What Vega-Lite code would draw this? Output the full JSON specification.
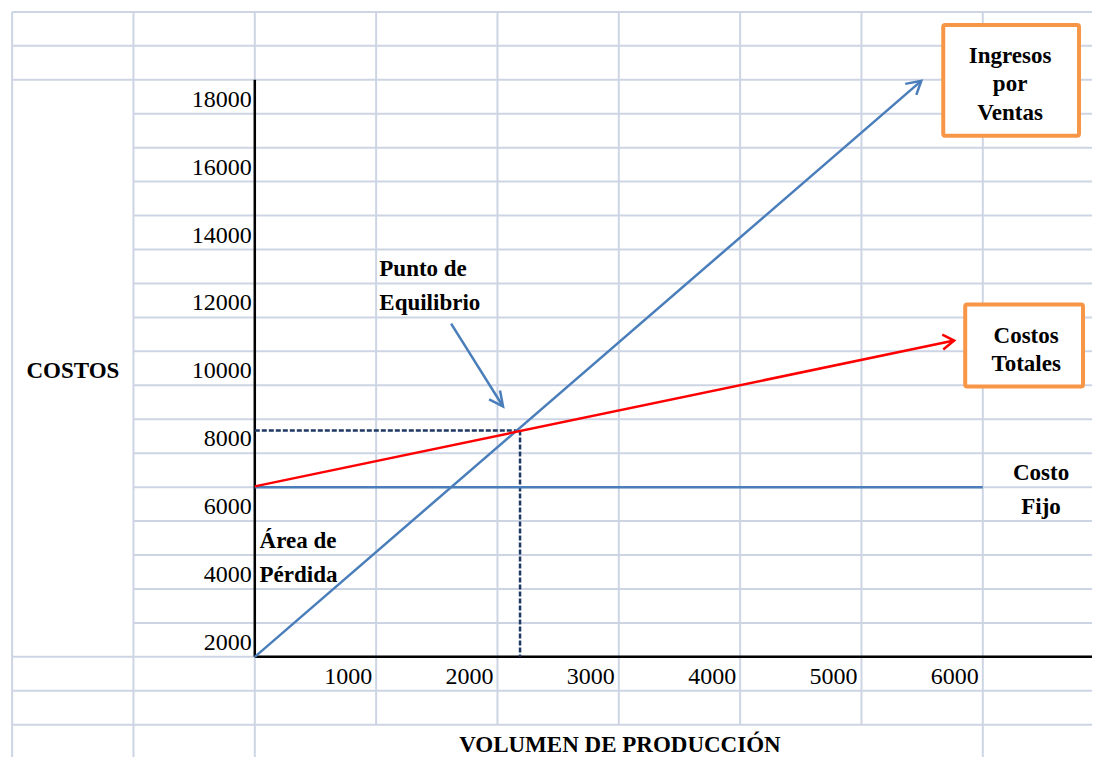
{
  "$schema": "https://vega.github.io/schema/vega-lite/v6.json",
  "width": 1094,
  "height": 758,
  "autosize": {"type": "fit", "contains": "padding"},
  "padding": 0,
  "background": "white",
  "config": {"view": {"stroke": null}},
  "datasets": {
    "grid": [
      {"x": -2000, "y": 20500, "x2": -2000, "y2": -1450},
      {"x": -1000, "y": 20500, "x2": -1000, "y2": -1450},
      {"x": 0, "y": 20500, "x2": 0, "y2": -1450},
      {"x": 1000, "y": 20500, "x2": 1000, "y2": -500},
      {"x": 2000, "y": 20500, "x2": 2000, "y2": -500},
      {"x": 3000, "y": 20500, "x2": 3000, "y2": -500},
      {"x": 4000, "y": 20500, "x2": 4000, "y2": -500},
      {"x": 5000, "y": 20500, "x2": 5000, "y2": -500},
      {"x": 6000, "y": 20500, "x2": 6000, "y2": -1450},
      {"x": -2000, "y": 20500, "x2": 6900, "y2": 20500},
      {"x": -2000, "y": 19500, "x2": 6900, "y2": 19500},
      {"x": -2000, "y": 18500, "x2": 6900, "y2": 18500},
      {"x": -1000, "y": 17500, "x2": 6900, "y2": 17500},
      {"x": -1000, "y": 16500, "x2": 6900, "y2": 16500},
      {"x": -1000, "y": 15500, "x2": 6900, "y2": 15500},
      {"x": -1000, "y": 14500, "x2": 6900, "y2": 14500},
      {"x": -1000, "y": 13500, "x2": 6900, "y2": 13500},
      {"x": -1000, "y": 12500, "x2": 6900, "y2": 12500},
      {"x": -1000, "y": 11500, "x2": 6900, "y2": 11500},
      {"x": -1000, "y": 10500, "x2": 6900, "y2": 10500},
      {"x": -1000, "y": 9500, "x2": 6900, "y2": 9500},
      {"x": -1000, "y": 8500, "x2": 6900, "y2": 8500},
      {"x": -1000, "y": 7500, "x2": 6900, "y2": 7500},
      {"x": -1000, "y": 6500, "x2": 6900, "y2": 6500},
      {"x": -1000, "y": 5500, "x2": 6900, "y2": 5500},
      {"x": -1000, "y": 4500, "x2": 6900, "y2": 4500},
      {"x": -1000, "y": 3500, "x2": 6900, "y2": 3500},
      {"x": -1000, "y": 2500, "x2": 6900, "y2": 2500},
      {"x": -2000, "y": 1500, "x2": 6900, "y2": 1500},
      {"x": -2000, "y": 500, "x2": 6900, "y2": 500},
      {"x": -2000, "y": -500, "x2": 6900, "y2": -500}
    ],
    "axes": [
      {"x": 0, "y": 18500, "x2": 0, "y2": 1500},
      {"x": 0, "y": 1500, "x2": 6900, "y2": 1500}
    ],
    "dashed": [
      {"x": 0, "y": 8170, "x2": 2186, "y2": 8170},
      {"x": 2186, "y": 8170, "x2": 2186, "y2": 1500}
    ],
    "lines": [
      {"s": "fijo", "x": 0, "y": 6500, "o": 0},
      {"s": "fijo", "x": 6000, "y": 6500, "o": 1},
      {"s": "ingresos", "x": 0, "y": 1500, "o": 0},
      {"s": "ingresos", "x": 5493, "y": 18467, "o": 1},
      {"s": "ingresos_tip", "x": 5361, "y": 18379, "o": 0},
      {"s": "ingresos_tip", "x": 5493, "y": 18467, "o": 1},
      {"s": "ingresos_tip", "x": 5452, "y": 18055, "o": 2},
      {"s": "punto", "x": 1618, "y": 11318, "o": 0},
      {"s": "punto", "x": 2046, "y": 8876, "o": 1},
      {"s": "punto_tip", "x": 1931, "y": 9082, "o": 0},
      {"s": "punto_tip", "x": 2046, "y": 8876, "o": 1},
      {"s": "punto_tip", "x": 2021, "y": 9347, "o": 2},
      {"s": "totales", "x": 0, "y": 6522, "o": 0},
      {"s": "totales", "x": 5764, "y": 10818, "o": 1},
      {"s": "totales_tip", "x": 5666, "y": 10994, "o": 0},
      {"s": "totales_tip", "x": 5764, "y": 10818, "o": 1},
      {"s": "totales_tip", "x": 5674, "y": 10553, "o": 2}
    ],
    "boxes": [
      {"x": 5674, "y": 20115, "x2": 6793, "y2": 16849},
      {"x": 5855, "y": 11877, "x2": 6826, "y2": 9465}
    ],
    "yticks": [
      {"x": 0, "y": 2000, "label": "2000"},
      {"x": 0, "y": 4000, "label": "4000"},
      {"x": 0, "y": 6000, "label": "6000"},
      {"x": 0, "y": 8000, "label": "8000"},
      {"x": 0, "y": 10000, "label": "10000"},
      {"x": 0, "y": 12000, "label": "12000"},
      {"x": 0, "y": 14000, "label": "14000"},
      {"x": 0, "y": 16000, "label": "16000"},
      {"x": 0, "y": 18000, "label": "18000"}
    ],
    "xticks": [
      {"x": 1000, "y": 1000, "label": "1000"},
      {"x": 2000, "y": 1000, "label": "2000"},
      {"x": 3000, "y": 1000, "label": "3000"},
      {"x": 4000, "y": 1000, "label": "4000"},
      {"x": 5000, "y": 1000, "label": "5000"},
      {"x": 6000, "y": 1000, "label": "6000"}
    ],
    "leftText": [
      {"x": 1026, "y": 13000, "label": "Punto de"},
      {"x": 1026, "y": 12000, "label": "Equilibrio"},
      {"x": 39, "y": 5000, "label": "Área de"},
      {"x": 39, "y": 4000, "label": "Pérdida"}
    ],
    "centerText": [
      {"x": -1499, "y": 10000, "label": "COSTOS"},
      {"x": 3009, "y": -1000, "label": "VOLUMEN DE PRODUCCIÓN"},
      {"x": 6480, "y": 7000, "label": "Costo"},
      {"x": 6480, "y": 6000, "label": "Fijo"},
      {"x": 6225, "y": 19290, "label": "Ingresos"},
      {"x": 6225, "y": 18470, "label": "por"},
      {"x": 6225, "y": 17615, "label": "Ventas"},
      {"x": 6357, "y": 11050, "label": "Costos"},
      {"x": 6357, "y": 10230, "label": "Totales"}
    ]
  },
  "encoding": {
    "x": {"field": "x", "type": "quantitative", "scale": {"domain": [-2100, 6900], "nice": false, "zero": false}, "axis": null},
    "y": {"field": "y", "type": "quantitative", "scale": {"domain": [-1450, 20850], "nice": false, "zero": false}, "axis": null}
  },
  "layer": [
    {
      "data": {"name": "grid"},
      "mark": {"type": "rule", "stroke": "#cdd5e4", "strokeWidth": 2},
      "encoding": {"x2": {"field": "x2"}, "y2": {"field": "y2"}}
    },
    {
      "data": {"name": "axes"},
      "mark": {"type": "rule", "stroke": "#000000", "strokeWidth": 2.5},
      "encoding": {"x2": {"field": "x2"}, "y2": {"field": "y2"}}
    },
    {
      "data": {"name": "dashed"},
      "mark": {"type": "rule", "stroke": "#1f3864", "strokeWidth": 2.5, "strokeDash": [5, 2]},
      "encoding": {"x2": {"field": "x2"}, "y2": {"field": "y2"}}
    },
    {
      "data": {"name": "lines"},
      "mark": {"type": "line", "strokeWidth": 2.5, "strokeJoin": "miter", "strokeCap": "butt"},
      "encoding": {
        "detail": {"field": "s", "type": "nominal"},
        "order": {"field": "o", "type": "quantitative"},
        "color": {
          "field": "s", "type": "nominal", "legend": null,
          "scale": {
            "domain": ["fijo", "ingresos", "ingresos_tip", "punto", "punto_tip", "totales", "totales_tip"],
            "range": ["#4a7ebb", "#4a7ebb", "#4a7ebb", "#4a7ebb", "#4a7ebb", "#ff0000", "#ff0000"]
          }
        }
      }
    },
    {
      "data": {"name": "boxes"},
      "mark": {"type": "rect", "fill": "white", "stroke": "#f79646", "strokeWidth": 4, "cornerRadius": 2},
      "encoding": {"x2": {"field": "x2"}, "y2": {"field": "y2"}}
    },
    {
      "data": {"name": "yticks"},
      "mark": {"type": "text", "align": "right", "baseline": "middle", "dx": -3, "dy": 3, "font": "Times New Roman, Liberation Serif, Tinos, serif", "fontSize": 24, "color": "#000000"},
      "encoding": {"text": {"field": "label"}}
    },
    {
      "data": {"name": "xticks"},
      "mark": {"type": "text", "align": "right", "baseline": "middle", "dx": -4, "dy": 3, "font": "Times New Roman, Liberation Serif, Tinos, serif", "fontSize": 24, "color": "#000000"},
      "encoding": {"text": {"field": "label"}}
    },
    {
      "data": {"name": "leftText"},
      "mark": {"type": "text", "align": "left", "baseline": "middle", "dy": 3, "font": "Times New Roman, Liberation Serif, Tinos, serif", "fontSize": 23, "fontWeight": "bold", "color": "#000000"},
      "encoding": {"text": {"field": "label"}}
    },
    {
      "data": {"name": "centerText"},
      "mark": {"type": "text", "align": "center", "baseline": "middle", "dy": 3, "font": "Times New Roman, Liberation Serif, Tinos, serif", "fontSize": 23, "fontWeight": "bold", "color": "#000000"},
      "encoding": {"text": {"field": "label"}}
    }
  ]
}
